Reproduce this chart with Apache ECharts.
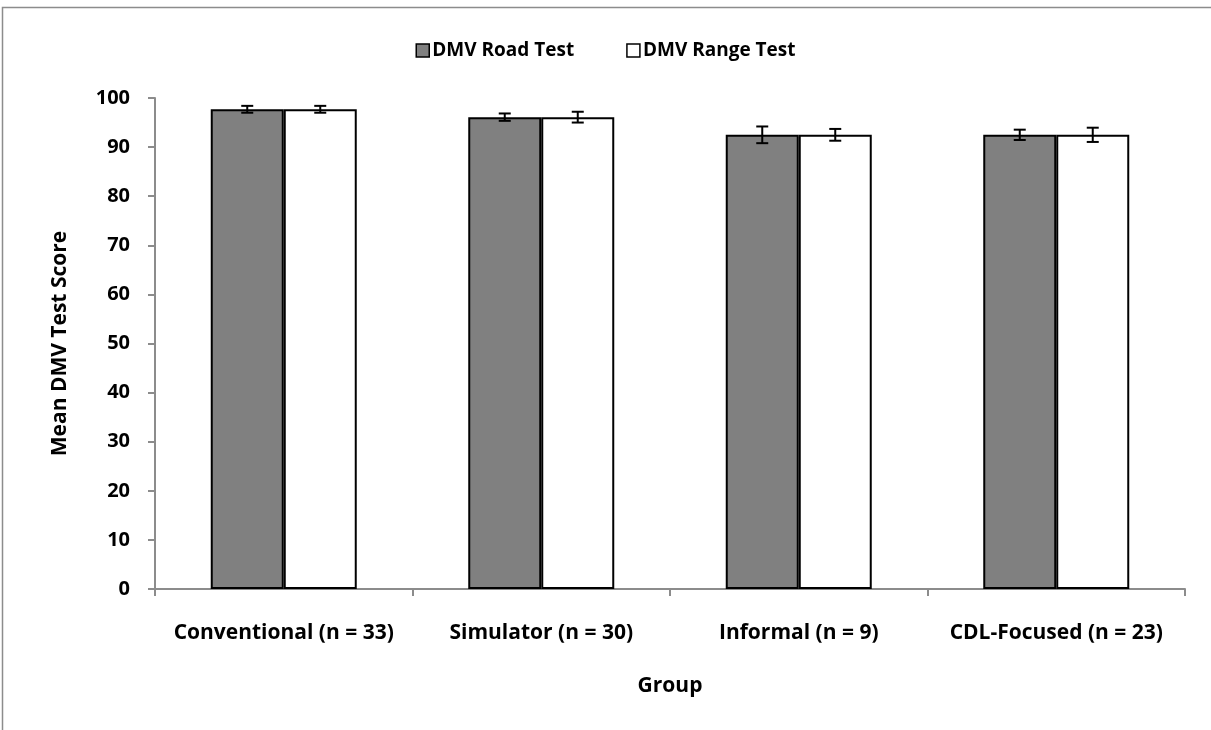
<!DOCTYPE html>
<html>
<head>
<meta charset="utf-8">
<script src="https://cdn.jsdelivr.net/npm/echarts@6/dist/echarts.min.js"></script>
<style>
  html, body { margin: 0; padding: 0; background: #fff; }
  #chart { width: 1211px; height: 730px; }
</style>
</head>
<body>
<div id="chart"></div>
<script>
// Group labels along the x axis
const groups = ['Conventional (n = 33)', 'Simulator (n = 30)', 'Informal (n = 9)', 'CDL-Focused (n = 23)'];
// Mean scores
const roadMeans = [97.7, 96.1, 92.5, 92.5];
const rangeMeans = [97.7, 96.1, 92.5, 92.5];
// Standard errors
const roadErr = [0.7, 0.75, 1.7, 1.05];
const rangeErr = [0.7, 1.1, 1.2, 1.45];
// Y-axis ticks
const yTicks = [0, 10, 20, 30, 40, 50, 60, 70, 80, 90, 100];

const FONT = '"Open Sans", sans-serif';
const BAR_W = 73;

function errorSeries(means, errs, side) {
  return {
    type: 'custom',
    z: 5,
    data: means.map((m, i) => [i, m, errs[i]]),
    renderItem: function (params, api) {
      const i = api.value(0), m = api.value(1), e = api.value(2);
      const hi = api.coord([i, m + e]);
      const lo = api.coord([i, m - e]);
      const x = hi[0] + side * BAR_W / 2;
      const cap = 6;
      const style = { stroke: '#000', lineWidth: 2 };
      return {
        type: 'group',
        children: [
          { type: 'line', shape: { x1: x, y1: hi[1], x2: x, y2: lo[1] }, style },
          { type: 'line', shape: { x1: x - cap, y1: hi[1], x2: x + cap, y2: hi[1] }, style },
          { type: 'line', shape: { x1: x - cap, y1: lo[1], x2: x + cap, y2: lo[1] }, style }
        ]
      };
    }
  };
}

const chart = echarts.init(document.getElementById('chart'));
chart.setOption({
  animation: false,
  backgroundColor: '#fff',
  textStyle: { fontFamily: FONT },
  graphic: [{
    type: 'rect',
    shape: { x: 2.5, y: 7.5, width: 1230, height: 760 },
    style: { fill: 'none', stroke: '#8c8c8c', lineWidth: 1.5 },
    silent: true
  }],
  legend: {
    top: 36,
    left: 'center',
    icon: 'rect',
    itemWidth: 13,
    itemHeight: 13,
    itemGap: 52,
    textStyle: { fontFamily: FONT, fontWeight: 'bold', fontSize: 19, color: '#000', padding: [0, 0, 0, -2] },
    data: [
      { name: 'DMV Road Test', itemStyle: { color: '#808080', borderColor: '#000', borderWidth: 1.5 } },
      { name: 'DMV Range Test', itemStyle: { color: '#fff', borderColor: '#000', borderWidth: 1.5 } }
    ]
  },
  grid: { left: 155, right: 26, top: 98, bottom: 141 },
  xAxis: {
    type: 'category',
    data: groups,
    name: 'Group',
    nameLocation: 'middle',
    nameGap: 87,
    nameTextStyle: { fontFamily: FONT, fontWeight: 'bold', fontSize: 21, color: '#000' },
    axisLine: { lineStyle: { color: '#8c8c8c', width: 2 } },
    axisTick: { show: true, length: 7, lineStyle: { color: '#8c8c8c', width: 2 } },
    axisLabel: { interval: 0, margin: 34, fontFamily: FONT, fontWeight: 'bold', fontSize: 21, color: '#000' }
  },
  yAxis: {
    type: 'value',
    min: yTicks[0],
    max: yTicks[yTicks.length - 1],
    interval: 10,
    name: 'Mean DMV Test Score',
    nameLocation: 'middle',
    nameGap: 84,
    nameTextStyle: { fontFamily: FONT, fontWeight: 'bold', fontSize: 21, color: '#000' },
    axisLine: { show: true, lineStyle: { color: '#8c8c8c', width: 2 } },
    axisTick: { show: true, length: 7, lineStyle: { color: '#8c8c8c', width: 2 } },
    splitLine: { show: false },
    axisLabel: { margin: 25, fontFamily: FONT, fontWeight: 'bold', fontSize: 20, color: '#000' }
  },
  series: [
    {
      name: 'DMV Road Test',
      type: 'bar',
      barWidth: BAR_W,
      barGap: '0%',
      data: roadMeans,
      itemStyle: { color: '#808080', borderColor: '#000', borderWidth: 2 }
    },
    {
      name: 'DMV Range Test',
      type: 'bar',
      barWidth: BAR_W,
      barGap: '0%',
      data: rangeMeans,
      itemStyle: { color: '#fff', borderColor: '#000', borderWidth: 2 }
    },
    errorSeries(roadMeans, roadErr, -1),
    errorSeries(rangeMeans, rangeErr, 1)
  ]
});
</script>
</body>
</html>
